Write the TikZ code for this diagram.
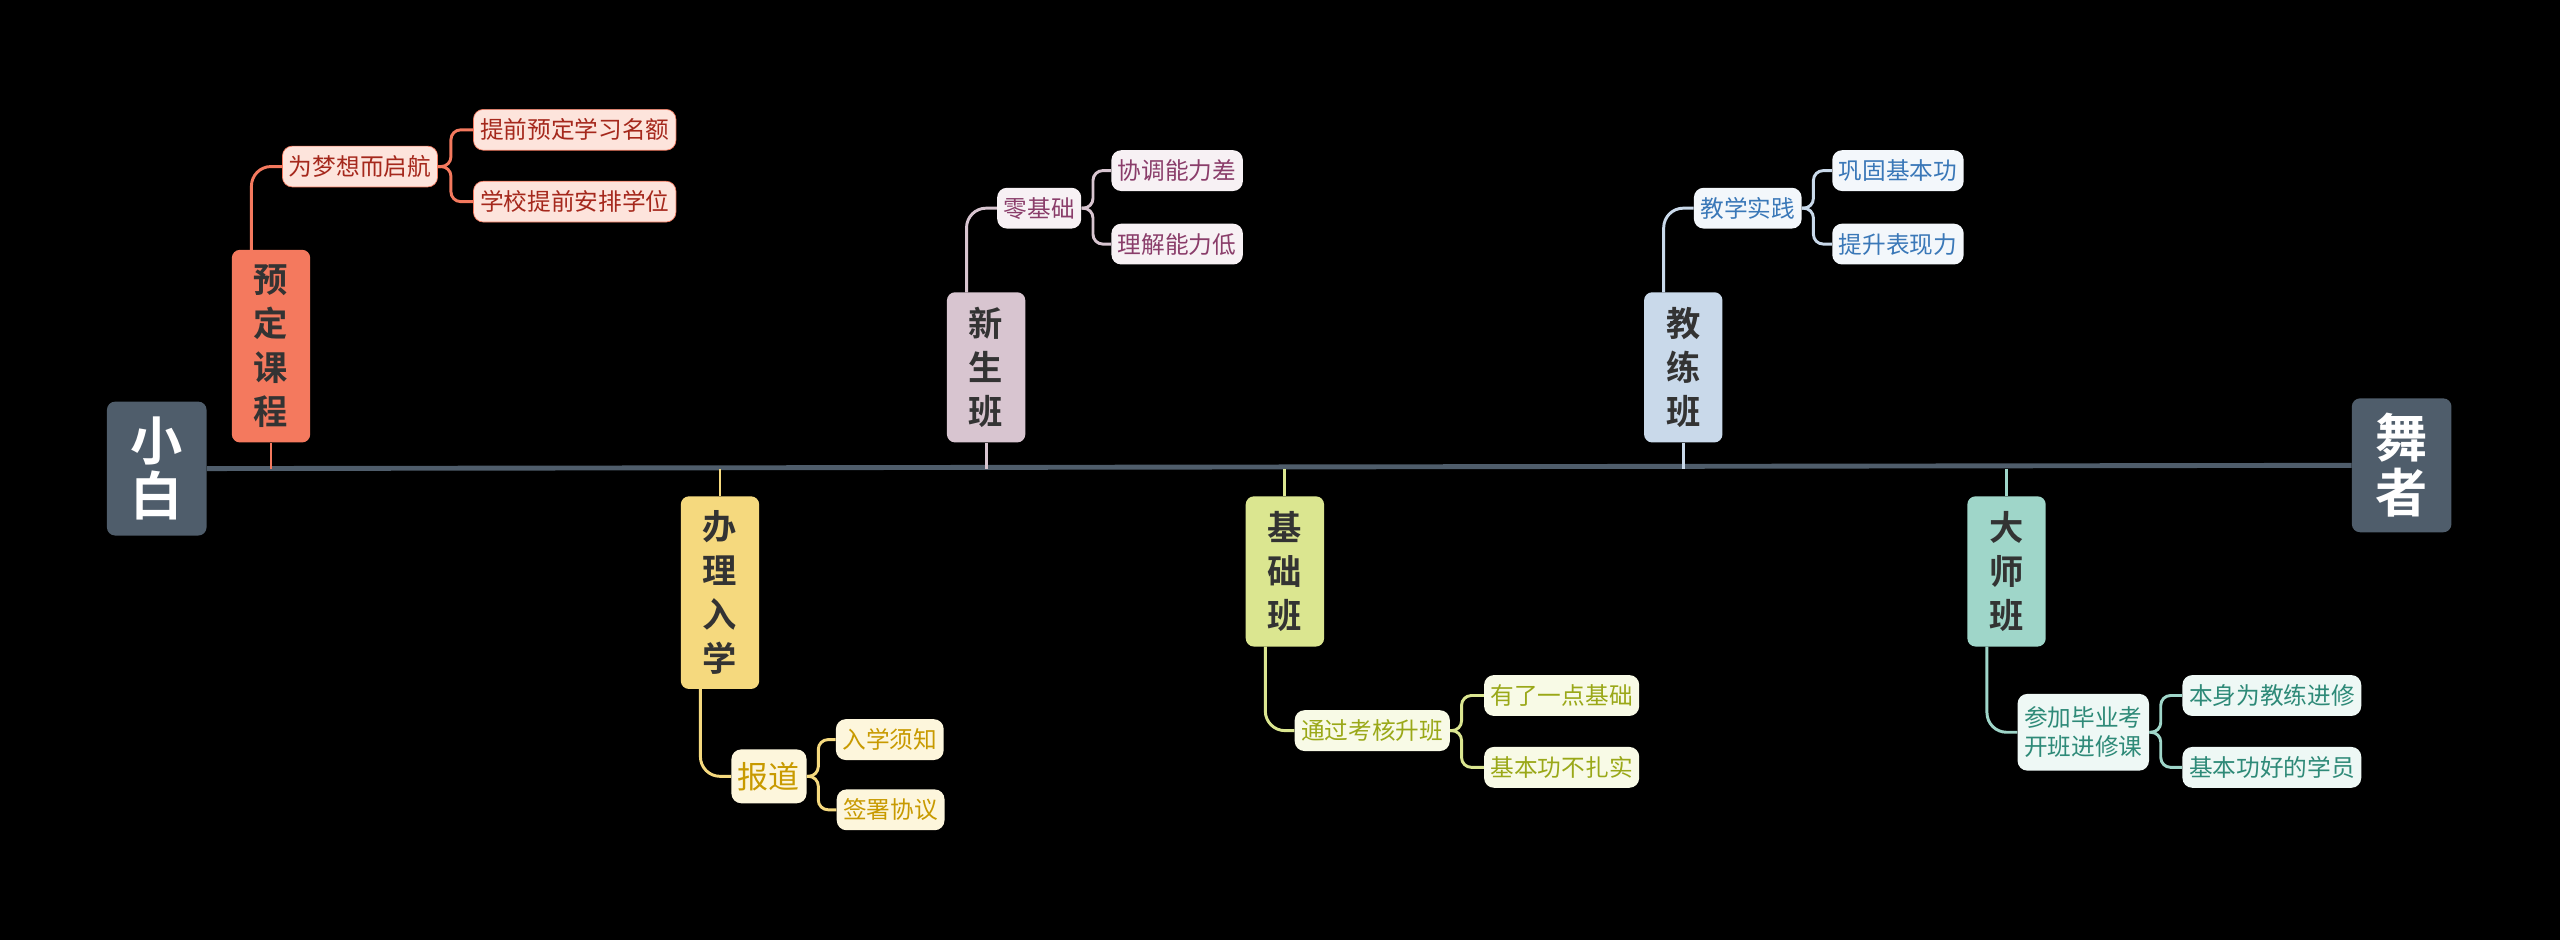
\documentclass[tikz,border=0pt]{standalone}
\usepackage{fontspec}
\setmainfont{Noto Sans CJK SC}
\newfontfamily\cjkb{Noto Sans CJK SC Bold}
\begin{document}
\begin{tikzpicture}[x=1pt,y=-1pt,
 endbox/.style={fill=spine,rounded corners=5pt,text=white,font=\cjkb\fontsize{32}{34}\selectfont,minimum width=61pt,minimum height=82pt,inner sep=0pt,align=center},
 branch/.style={fill=#1,rounded corners=5pt,text=black!80,font=\cjkb\fontsize{21}{27}\selectfont,minimum width=48pt,inner sep=0pt,align=center},
 sub/.style={rounded corners=6pt,font=\fontsize{14.5}{18}\selectfont,minimum height=25pt,inner xsep=4pt,inner ysep=0pt,align=center},
 conn/.style={line width=1.8pt,rounded corners=12pt},
 fork/.style={line width=1.8pt,rounded corners=6pt}]
\definecolor{spine}{HTML}{4F5D6B}
\definecolor{cA}{HTML}{F4795E}\definecolor{lA}{HTML}{FDE4DC}\definecolor{tA}{HTML}{A5281C}
\definecolor{cB}{HTML}{F5D97E}\definecolor{lB}{HTML}{FDF6DC}\definecolor{tB}{HTML}{C89A00}
\definecolor{cC}{HTML}{D8C5D0}\definecolor{lC}{HTML}{F7F1F4}\definecolor{tC}{HTML}{8A3D6A}
\definecolor{cD}{HTML}{DBE690}\definecolor{lD}{HTML}{F8FAE6}\definecolor{tD}{HTML}{9AA818}
\definecolor{cE}{HTML}{C9D9EA}\definecolor{lE}{HTML}{F3F7FB}\definecolor{tE}{HTML}{3A78B8}
\definecolor{cF}{HTML}{9FD6C9}\definecolor{lF}{HTML}{EEF8F5}\definecolor{tF}{HTML}{2E8A78}
\fill[black] (0,0) rectangle (1568,576);
\useasboundingbox (0,0) rectangle (1568,576);
\node[endbox] (s) at (96,287) {小\\白};
\node[endbox] (e) at (1471,285) {舞\\者};
\draw[spine,line width=3pt] (s.east) -- (e.west);
% A
\node[branch=cA,minimum height=118pt] (A) at (166,212) {预\\定\\课\\程};
\draw[cA,line width=1.8pt] (A.south) -- (166,287);
\node[sub,fill=lA,draw=cA,text=tA] (A1) at (220.5,102) {为梦想而启航};
\node[sub,fill=lA,draw=cA,text=tA] (A2) at (352,79.5) {提前预定学习名额};
\node[sub,fill=lA,draw=cA,text=tA] (A3) at (352,123.5) {学校提前安排学位};
\draw[conn,cA] (154,153) |- (A1.west);
\draw[fork,cA] (A1.east) -- ++(8,0) |- (A2.west);
\draw[fork,cA] (A1.east) -- ++(8,0) |- (A3.west);
% B
\node[branch=cB,minimum height=118pt] (B) at (441,363) {办\\理\\入\\学};
\draw[cB,line width=1.8pt] (B.north) -- (441,287);
\node[sub,fill=lB,text=tB,font=\fontsize{19}{22}\selectfont,minimum height=33pt] (B1) at (471,475.5) {报道};
\node[sub,fill=lB,text=tB] (B2) at (545,453) {入学须知};
\node[sub,fill=lB,text=tB] (B3) at (545.5,496) {签署协议};
\draw[conn,cB] (429,422) |- (B1.west);
\draw[fork,cB] (B1.east) -- ++(7,0) |- (B2.west);
\draw[fork,cB] (B1.east) -- ++(7,0) |- (B3.west);
% C
\node[branch=cC,minimum height=92pt] (C) at (604,225) {新\\生\\班};
\draw[cC,line width=1.8pt] (C.south) -- (604,287);
\node[sub,fill=lC,text=tC] (C1) at (636.5,127.5) {零基础};
\node[sub,fill=lC,text=tC] (C2) at (721,104.5) {协调能力差};
\node[sub,fill=lC,text=tC] (C3) at (721,149.5) {理解能力低};
\draw[conn,cC] (592,179) |- (C1.west);
\draw[fork,cC] (C1.east) -- ++(7,0) |- (C2.west);
\draw[fork,cC] (C1.east) -- ++(7,0) |- (C3.west);
% D
\node[branch=cD,minimum height=92pt] (D) at (787,350) {基\\础\\班};
\draw[cD,line width=1.8pt] (D.north) -- (787,287);
\node[sub,fill=lD,text=tD] (D1) at (840.5,447.5) {通过考核升班};
\node[sub,fill=lD,text=tD] (D2) at (956.5,426) {有了一点基础};
\node[sub,fill=lD,text=tD] (D3) at (956.5,470) {基本功不扎实};
\draw[conn,cD] (775,396) |- (D1.west);
\draw[fork,cD] (D1.east) -- ++(7,0) |- (D2.west);
\draw[fork,cD] (D1.east) -- ++(7,0) |- (D3.west);
% E
\node[branch=cE,minimum height=92pt] (E) at (1031,225) {教\\练\\班};
\draw[cE,line width=1.8pt] (E.south) -- (1031,287);
\node[sub,fill=lE,text=tE] (E1) at (1070.5,127.5) {教学实践};
\node[sub,fill=lE,text=tE] (E2) at (1162.5,104.5) {巩固基本功};
\node[sub,fill=lE,text=tE] (E3) at (1162.5,149.5) {提升表现力};
\draw[conn,cE] (1019,179) |- (E1.west);
\draw[fork,cE] (E1.east) -- ++(7,0) |- (E2.west);
\draw[fork,cE] (E1.east) -- ++(7,0) |- (E3.west);
% F
\node[branch=cF,minimum height=92pt] (F) at (1229,350) {大\\师\\班};
\draw[cF,line width=1.8pt] (F.north) -- (1229,287);
\node[sub,fill=lF,text=tF,minimum height=47pt] (F1) at (1276,448.5) {参加毕业考\\开班进修课};
\node[sub,fill=lF,text=tF] (F2) at (1391.5,426) {本身为教练进修};
\node[sub,fill=lF,text=tF] (F3) at (1391.5,470) {基本功好的学员};
\draw[conn,cF] (1217,396) |- (F1.west);
\draw[fork,cF] (F1.east) -- ++(7,0) |- (F2.west);
\draw[fork,cF] (F1.east) -- ++(7,0) |- (F3.west);
\end{tikzpicture}
\end{document}
